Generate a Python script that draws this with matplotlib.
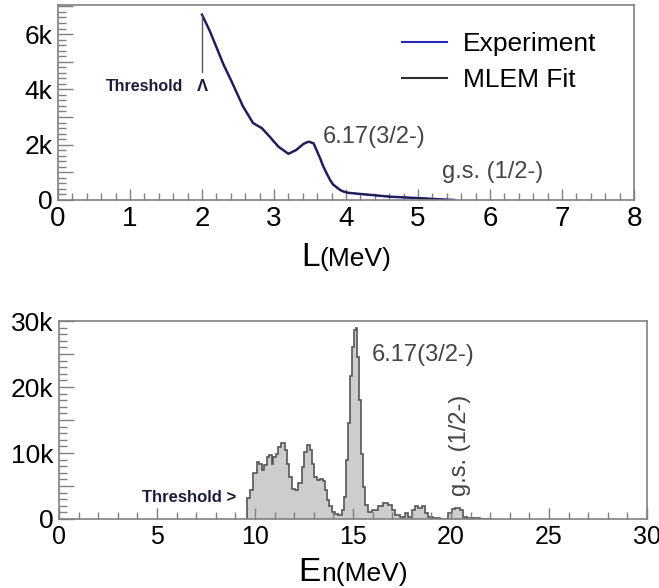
import matplotlib
matplotlib.use('Agg')
import matplotlib.pyplot as plt
from matplotlib.ticker import MultipleLocator, FuncFormatter
from matplotlib.lines import Line2D
from matplotlib.offsetbox import TextArea, HPacker, AnnotationBbox

plt.rcParams['font.family'] = ['Liberation Sans', 'DejaVu Sans']

# ---------------- data ----------------
# Top panel: light output L (MeV) vs counts
L_mev = [2.00, 2.11, 2.30, 2.41, 2.57, 2.71, 2.83, 2.94, 3.06, 3.20, 3.31, 3.41,
         3.48, 3.55, 3.64, 3.68, 3.73, 3.78, 3.82, 3.87, 3.92, 3.96, 4.03, 4.15,
         4.61, 5.07, 5.26, 5.50]
exp_counts = [6700, 6100, 4890, 4290, 3380, 2780, 2600, 2290, 1930, 1670, 1810, 2030,
              2110, 2050, 1510, 1240, 970, 720, 560, 460, 360, 310, 260, 230,
              120, 60, 30, 0]
fit_counts = [6700, 6100, 4890, 4290, 3380, 2780, 2600, 2290, 1930, 1670, 1810, 2030,
              2110, 2050, 1510, 1240, 970, 720, 560, 460, 360, 310, 260, 230,
              120, 60, 30, 0]
threshold_L = 2.0
threshold_line = [4640, 6700]

# Bottom panel: neutron energy histogram
en_edges = [9.61, 9.74, 9.91, 10.09, 10.22, 10.34, 10.46, 10.60, 10.73, 10.85,
            10.93, 11.07, 11.19, 11.31, 11.53, 11.62, 11.73, 11.87, 12.04, 12.21,
            12.38, 12.50, 12.64, 12.81, 12.89, 13.01, 13.15, 13.32, 13.45, 13.57,
            13.69, 13.79, 13.91, 14.08, 14.25, 14.42, 14.54, 14.64, 14.74, 14.85,
            14.95, 15.05, 15.15, 15.22, 15.32, 15.42, 15.53, 15.63, 15.78, 15.95,
            16.29, 16.55, 16.80, 16.97, 17.14, 17.40, 17.65, 17.82, 17.99, 18.16,
            18.33, 18.51, 18.67, 18.84, 19.10, 19.44, 19.86, 20.03, 20.20, 20.46,
            20.63, 20.80, 21.14, 21.48, 22.07]
en_counts_k = [3.2, 4.4, 6.9, 8.7, 8.4, 7.4, 8.2, 9.4, 9.7, 8.4,
               9.4, 9.9, 10.9, 11.5, 10.5, 8.4, 6.4, 4.6, 4.4, 5.4,
               7.9, 10.2, 11.2, 10.5, 8.4, 6.4, 5.9, 6.1, 5.7, 4.4,
               2.9, 1.9, 1.1, 0.75, 0.6, 1.4, 3.4, 8.9, 14.5, 21.6,
               26.1, 28.6, 28.9, 24.6, 18.0, 9.9, 4.9, 2.1, 1.1, 1.4,
               1.9, 2.4, 2.1, 1.4, 0.6, 0.25, 0.85, 0.35, 1.4, 1.9,
               1.6, 1.9, 0.85, 0.35, 0.1, 0.0, 0.85, 1.5, 1.6, 1.4,
               0.35, 0.1, 0.08, 0.05]
en_counts = [c * 1000 for c in en_counts_k]

# ---------------- figure ----------------
W, H = 659, 588
fig = plt.figure(figsize=(W / 100, H / 100), dpi=100)

def ax_rect(l, t, r, b):
    return [l / W, 1 - b / H, (r - l) / W, (b - t) / H]

ax1 = fig.add_axes(ax_rect(58, 5, 634, 200))
ax2 = fig.add_axes(ax_rect(59, 321, 647, 519))

frame_col = '#808080'
text_dark = '#1c1c3c'
ann_col = '#444444'

def kfmt(step):
    def f(v, pos):
        if abs(v) < 1e-6:
            return '0'
        if abs(v / step - round(v / step)) > 1e-6:
            return ''
        return f'{int(round(v / 1000))}k'
    return FuncFormatter(f)

for ax in (ax1, ax2):
    for s in ax.spines.values():
        s.set_color(frame_col)
        s.set_linewidth(1.2)
    ax.tick_params(which='both', direction='in', color=frame_col, width=1,
                   top=False, right=False)
    ax.tick_params(axis='y', which='major', length=11, pad=4)
    ax.tick_params(axis='y', which='minor', length=6)
    ax.tick_params(axis='x', which='major', length=8, pad=4)
    ax.tick_params(axis='x', which='minor', length=5)

# ---- top panel ----
ax1.plot(L_mev, exp_counts, color='#2626b8', lw=1.8, label='Experiment')
ax1.plot(L_mev, fit_counts, color='#202020', lw=1.0, label='MLEM Fit')
ax1.plot([threshold_L, threshold_L], threshold_line, color='#555555', lw=1.0)
ax1.set_xlim(0, 8)
ax1.set_ylim(0, 7050)
ax1.xaxis.set_major_locator(MultipleLocator(1))
ax1.xaxis.set_minor_locator(MultipleLocator(0.2))
ax1.yaxis.set_major_locator(MultipleLocator(1000))
ax1.yaxis.set_minor_locator(MultipleLocator(200))
ax1.yaxis.set_major_formatter(kfmt(2000))
ax1.tick_params(axis='x', labelsize=20)
ax1.tick_params(axis='y', labelsize=19)

handles = [Line2D([], [], color='#2626b8', lw=1.5),
           Line2D([], [], color='#303030', lw=1.5)]
ax1.legend(handles, ['Experiment', 'MLEM Fit'], loc='upper left',
           bbox_to_anchor=(0.597, 0.86), frameon=False, fontsize=19,
           handlelength=1.7, handletextpad=0.6, labelspacing=0.45,
           borderpad=0, borderaxespad=0)

ax1.text(3.68, 2280, '6.17(3/2-)', fontsize=17, color=ann_col, va='center', ha='left')
ax1.text(5.33, 1010, 'g.s. (1/2-)', fontsize=17, color=ann_col, va='center', ha='left')
ax1.text(0.67, 4090, 'Threshold', fontsize=11.5, fontweight='bold', color=text_dark,
         va='center', ha='left')
ax1.text(threshold_L, 4090, 'Λ', fontsize=12, fontweight='bold', color=text_dark,
         va='center', ha='center')

# ---- bottom panel ----
ax2.stairs(en_counts, en_edges, fill=True, color='#cdcdcd', baseline=0)
ax2.stairs(en_counts, en_edges, fill=False, color='#555555', lw=1.2, baseline=0)
ax2.set_xlim(0, 30)
ax2.set_ylim(0, 30000)
ax2.xaxis.set_major_locator(MultipleLocator(5))
ax2.xaxis.set_minor_locator(MultipleLocator(1))
ax2.yaxis.set_major_locator(MultipleLocator(5000))
ax2.yaxis.set_minor_locator(MultipleLocator(1000))
ax2.yaxis.set_major_formatter(kfmt(10000))
ax2.tick_params(axis='x', labelsize=18)
ax2.tick_params(axis='y', labelsize=19)

ax2.text(15.97, 24800, '6.17(3/2-)', fontsize=17, color=ann_col, va='center', ha='left')
ax2.text(20.46, 11200, 'g.s. (1/2-)', fontsize=17, color=ann_col, va='center',
         ha='center', rotation=90)
ax2.text(4.23, 3200, 'Threshold >', fontsize=12, fontweight='bold', color=text_dark,
         va='center', ha='left')

# ---- axis labels with mixed sizes ----
def mixed_label(ax, big, small, y_px_from_axis):
    t1 = TextArea(big, textprops=dict(fontsize=24, color='black'))
    t2 = TextArea(small, textprops=dict(fontsize=19, color='black'))
    box = HPacker(children=[t1, t2], align='baseline', pad=0, sep=0)
    ab = AnnotationBbox(box, (0.5, 0), xycoords='axes fraction',
                        xybox=(0, -y_px_from_axis), boxcoords='offset pixels',
                        box_alignment=(0.5, 1), frameon=False)
    ax.add_artist(ab)

mixed_label(ax1, 'L', '(MeV)', 42)
mixed_label(ax2, 'E', 'n(MeV)', 38)

fig.savefig('out.png', dpi=100)
